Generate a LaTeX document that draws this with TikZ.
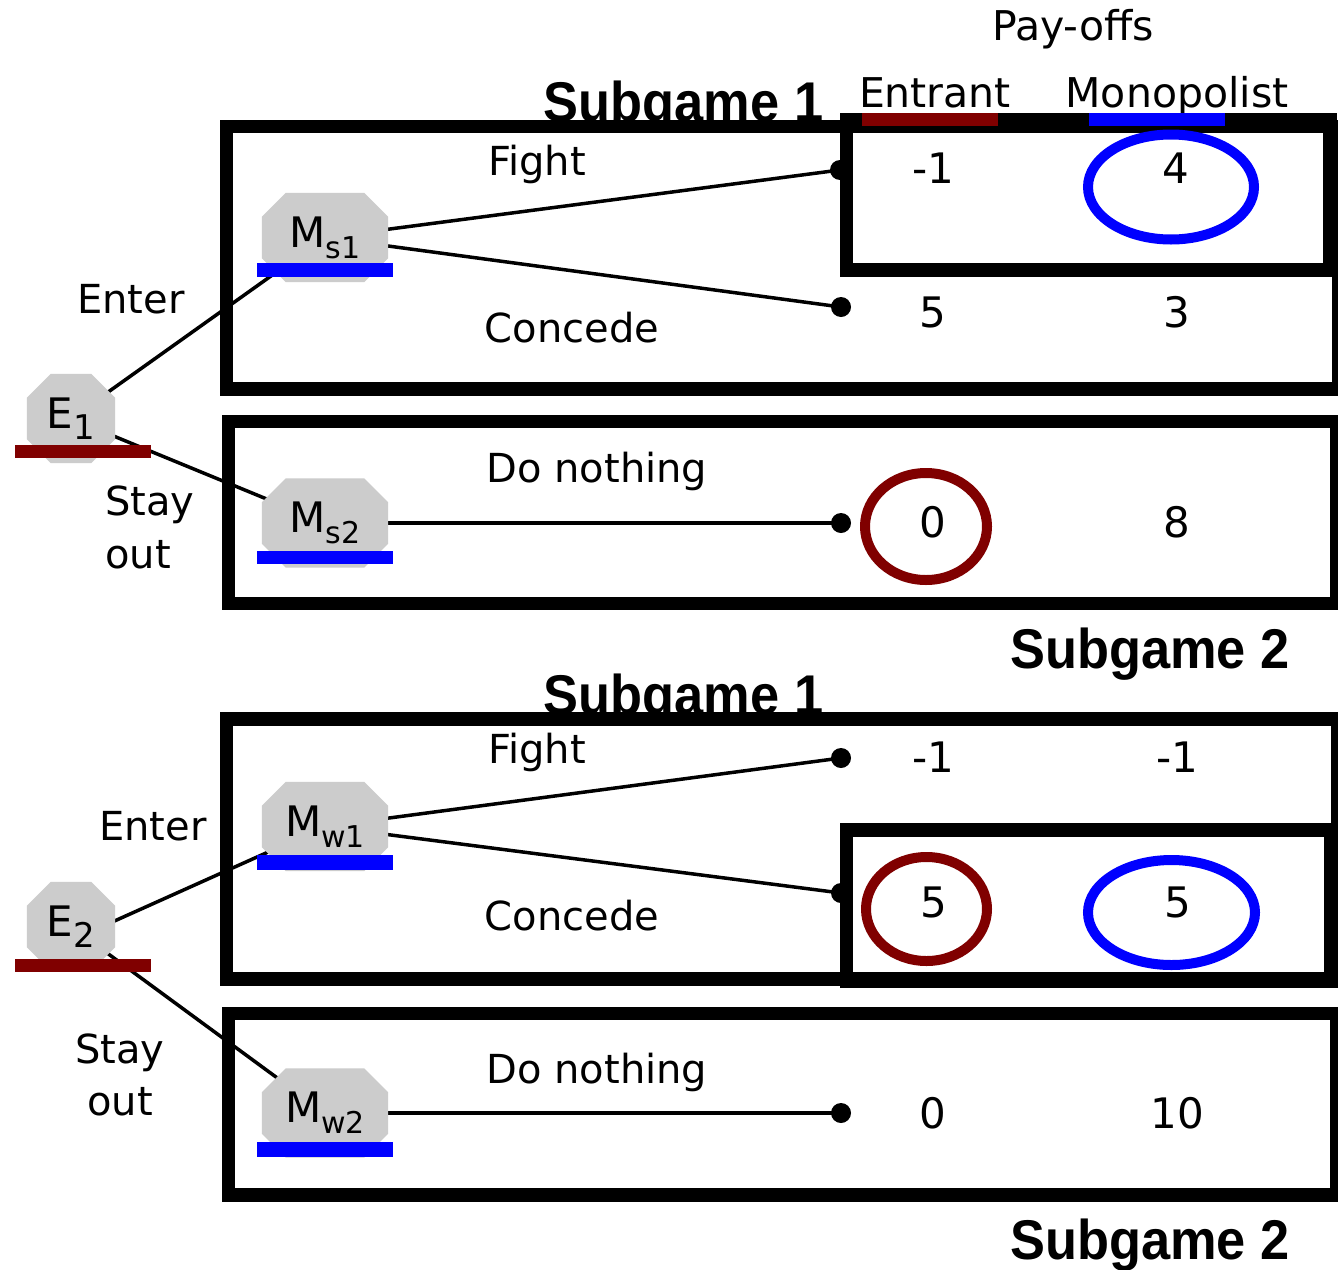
\documentclass[tikz,border=0pt]{standalone}
\usepackage{fontspec}
\setmainfont{DejaVu Sans}
\newfontfamily\headfont{Liberation Sans}
\usetikzlibrary{backgrounds}
\definecolor{nodegray}{HTML}{CCCCCC}
\definecolor{entrantred}{HTML}{800000}
\definecolor{monoblue}{HTML}{0000FF}
% lowered index after a player's letter
\newcommand{\msub}[1]{\raisebox{-11pt}{\fontsize{30}{30}\selectfont #1}}
\newcommand{\esub}[1]{\raisebox{-11pt}{\fontsize{34}{34}\selectfont #1}}
% grey octagon filling the box of a decision node
\newcommand{\octfill}[1]{%
  \fill[nodegray] ([xshift=24pt]#1.north west) -- ([xshift=-24pt]#1.north east)
    -- ([yshift=-24pt]#1.north east) -- ([yshift=24pt]#1.south east)
    -- ([xshift=-24pt]#1.south east) -- ([xshift=24pt]#1.south west)
    -- ([yshift=24pt]#1.south west) -- ([yshift=-24pt]#1.north west) -- cycle;}
\begin{document}
\begin{tikzpicture}[x=1pt, y=-1pt,
  lbl/.style={font=\fontsize{40}{40}\selectfont, inner sep=0pt, anchor=base},
  colhead/.style={font=\fontsize{41}{41}\selectfont, inner sep=0pt, anchor=base},
  pay/.style={font=\fontsize{42}{42}\selectfont, inner sep=0pt, anchor=base},
  head/.style={font=\headfont\bfseries\fontsize{56}{56}\selectfont, inner sep=0pt, anchor=base},
  decision/.style={rectangle, inner sep=0pt, minimum height=89pt,
    minimum width=#1, font=\fontsize{42}{42}\selectfont},
  leaf/.style={circle, fill=black, inner sep=0pt, minimum size=20pt},
  branch/.style={line width=3.5pt},
  frame/.style={line width=13.5pt},
  pick/.style={line width=10pt},
]
\useasboundingbox (0,0) rectangle (1338,1269);

% subgame titles, partly covered by the frames drawn later
\node[head] (sg1a) at (683.5,121) {\scalebox{0.935}[1]{Subgame 1}};
\node[head] (sg2a) at (1150,668) {\scalebox{0.935}[1]{Subgame 2}};
\node[head] (sg1b) at (683.5,714) {\scalebox{0.935}[1]{Subgame 1}};
\node[head] (sg2b) at (1150,1259) {\scalebox{0.935}[1]{Subgame 2}};

% pay-off column headings
\node[colhead] (payoffs) at (1073,40) {Pay-offs};
\node[colhead] (entrant) at (935,107) {Entrant};
\node[colhead] (monop) at (1177,107) {Monopolist};

% frames of the subgames
\draw[frame] (226.5,126.5) rectangle (1338.75,389);
\draw[frame] (846.5,119.5) rectangle (1330,270);
\draw[frame] (228.5,421.5) rectangle (1336.75,603.5);
\draw[frame] (226.5,719) rectangle (1337.75,979);
\draw[frame] (846.5,830) rectangle (1331,981.5);
\draw[frame] (228.5,1013.5) rectangle (1337,1195);

\fill[entrantred] (862,113) rectangle (998,126);
\fill[monoblue] (1089,113) rectangle (1225,126);

% decision nodes
\node[decision=88pt] (E1) at (71,418.5) {E\esub{1}};
\node[decision=126pt] (Ms1) at (325,237.5) {M\msub{s1}};
\node[decision=126pt] (Ms2) at (325,523) {M\msub{s2}};
\node[decision=88pt] (E2) at (71,926.5) {E\esub{2}};
\node[decision=126pt] (Mw1) at (325,826.5) {M\msub{w1}};
\node[decision=126pt] (Mw2) at (325,1113) {M\msub{w2}};

% terminal points
\node[leaf] (t1) at (840,170) {};
\node[leaf] (t2) at (841,307) {};
\node[leaf] (t3) at (841,523) {};
\node[leaf] (t4) at (841,758) {};
\node[leaf] (t5) at (841,893) {};
\node[leaf] (t6) at (841,1113) {};

% branches and node bodies, kept behind the node texts
\begin{pgfonlayer}{background}
  \fill[white] (0,0) rectangle (1338,1269);
  \draw[branch] (E1.center) -- (Ms1.center);
  \draw[branch] (E1.center) -- (Ms2.center);
  \draw[branch] (Ms1.center) -- (t1.center);
  \draw[branch] (Ms1.center) -- (t2.center);
  \draw[branch] (Ms2.center) -- (t3.center);
  \draw[branch] ([yshift=-14pt]E2.center) -- (Mw1.center);
  \draw[branch] (E2.center) -- (Mw2.center);
  \draw[branch] (Mw1.center) -- (t4.center);
  \draw[branch] (Mw1.center) -- (t5.center);
  \draw[branch] (Mw2.center) -- (t6.center);
  \octfill{E1}
  \octfill{E2}
  \octfill{Ms1}
  \octfill{Ms2}
  \octfill{Mw1}
  \octfill{Mw2}
\end{pgfonlayer}

% player markers under the nodes
\fill[entrantred] ([xshift=-56pt,yshift=5pt]E1.south) rectangle ([xshift=80pt,yshift=18pt]E1.south);
\fill[entrantred] ([xshift=-56pt,yshift=-1pt]E2.south) rectangle ([xshift=80pt,yshift=12pt]E2.south);
\fill[monoblue] ([xshift=-68pt,yshift=5pt]Ms1.south) rectangle ([xshift=68pt,yshift=19pt]Ms1.south);
\fill[monoblue] ([xshift=-68pt,yshift=3.5pt]Ms2.south) rectangle ([xshift=68pt,yshift=16.5pt]Ms2.south);
\fill[monoblue] ([xshift=-68pt,yshift=1.5pt]Mw1.south) rectangle ([xshift=68pt,yshift=16pt]Mw1.south);
\fill[monoblue] ([xshift=-68pt,yshift=1pt]Mw2.south) rectangle ([xshift=68pt,yshift=16pt]Mw2.south);

% branch labels
\node[lbl] (enter1) at (131,313) {Enter};
\node[lbl, anchor=base west] (stay1) at (105,515) {Stay};
\node[lbl, anchor=base west] (out1) at (105,568) {out};
\node[lbl] (fight1) at (537,175) {Fight};
\node[lbl] (concede1) at (572,342) {Concede};
\node[lbl] (nothing1) at (597,482) {Do nothing};

\node[lbl] (enter2) at (153,840) {Enter};
\node[lbl] (stay2) at (120,1063) {Stay};
\node[lbl] (out2) at (120,1115) {out};
\node[lbl] (fight2) at (537,763) {Fight};
\node[lbl] (concede2) at (572,930) {Concede};
\node[lbl] (nothing2) at (597,1083) {Do nothing};

% pay-offs
\node[pay] (p1e) at (933,183) {-1};
\node[pay] (p1m) at (1176,183) {4};
\node[pay] (p2e) at (933,327) {5};
\node[pay] (p2m) at (1177,327) {3};
\node[pay] (p3e) at (933,537) {0};
\node[pay] (p3m) at (1177,537) {8};
\node[pay] (p4e) at (933,772) {-1};
\node[pay] (p4m) at (1177,772) {-1};
\node[pay] (p5e) at (934,917) {5};
\node[pay] (p5m) at (1178,917) {5};
\node[pay] (p6e) at (933,1128) {0};
\node[pay] (p6m) at (1177,1128) {10};

% best replies
\draw[pick, monoblue] (1171,187) ellipse [x radius=83, y radius=52.5];
\draw[pick, entrantred] (926,526.5) ellipse [x radius=61, y radius=53.5];
\draw[pick, entrantred] (926.5,909) ellipse [x radius=60.5, y radius=52];
\draw[pick, monoblue] (1171.5,912.5) ellipse [x radius=83.5, y radius=52.5];
\end{tikzpicture}
\end{document}
